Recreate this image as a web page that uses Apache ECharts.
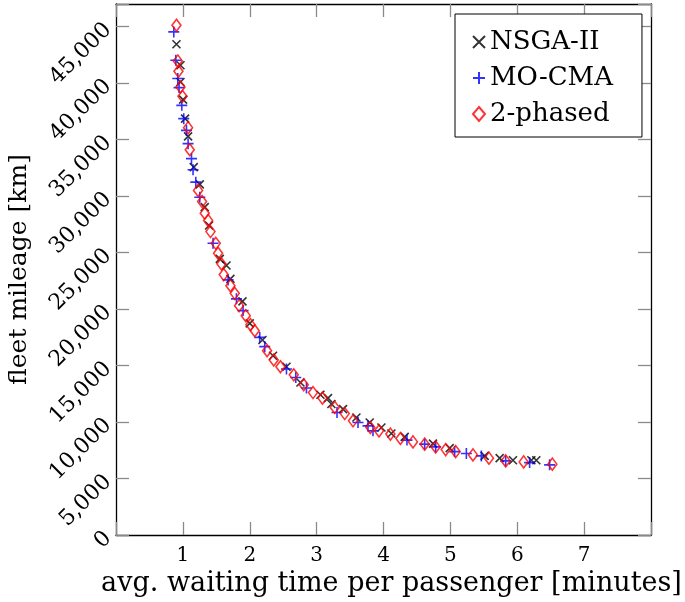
<!DOCTYPE html>
<html>
<head>
<meta charset="utf-8">
<script src="https://cdn.jsdelivr.net/npm/echarts@6/dist/echarts.min.js"></script>
<style>html,body{margin:0;padding:0;background:#fff}#c{width:685px;height:602px}</style>
</head>
<body>
<div id="c"></div>
<script>
// ---- data ----
const seriesNames = ['NSGA-II', 'MO-CMA', '2-phased'];
const xTicks = [1, 2, 3, 4, 5, 6, 7];
const yTicks = [0, 5000, 10000, 15000, 20000, 25000, 30000, 35000, 40000, 45000];

const nsgaX = [0.904, 0.964, 0.964, 1.003, 1.033, 1.078, 1.163, 1.253, 1.327, 1.392, 1.552, 1.652, 1.711, 1.891, 2.0, 2.19, 2.348, 2.549, 2.758, 3.057, 3.170, 3.221, 3.395, 3.595, 3.794, 3.969, 4.118, 4.317, 4.740, 4.990, 5.513, 5.737, 5.936, 6.211, 6.285];
const nsgaY = [43440, 41580, 40100, 38540, 36850, 35280, 32560, 31030, 29020, 27390, 24440, 23850, 22670, 20680, 18730, 17260, 15870, 14890, 13500, 12410, 12120, 11590, 11140, 10400, 9960, 9510, 8980, 8690, 8090, 7690, 7000, 6800, 6620, 6620, 6620];

const mocmaX = [0.864, 0.894, 0.924, 0.943, 0.984, 1.013, 1.054, 1.078, 1.129, 1.152, 1.193, 1.253, 1.451, 1.676, 1.801, 1.900, 2.149, 2.224, 2.549, 2.688, 2.848, 3.305, 3.619, 3.768, 3.843, 4.351, 4.616, 4.780, 5.064, 5.239, 5.463, 5.827, 6.185, 6.484];
const mocmaY = [44530, 42020, 40400, 39600, 38030, 36850, 35810, 34640, 33310, 32330, 31230, 29900, 25820, 22580, 20900, 19860, 17490, 16670, 14690, 13940, 13010, 10840, 9960, 9660, 9220, 8400, 8040, 7800, 7380, 7210, 7000, 6560, 6410, 6210];

const phasedX = [0.904, 0.924, 0.934, 0.964, 0.994, 1.078, 1.103, 1.227, 1.287, 1.327, 1.377, 1.413, 1.492, 1.526, 1.577, 1.611, 1.711, 1.776, 1.840, 1.940, 2.010, 2.075, 2.259, 2.359, 2.459, 2.658, 2.807, 2.946, 3.087, 3.271, 3.420, 3.544, 3.804, 3.933, 4.103, 4.253, 4.441, 4.616, 4.780, 4.930, 5.079, 5.338, 5.577, 5.827, 6.096, 6.525];
const phasedY = [45120, 41960, 41050, 39650, 38830, 36050, 34100, 30500, 29520, 28480, 27840, 26860, 25820, 24940, 24000, 23050, 22070, 21390, 20300, 19410, 18620, 18080, 16310, 15490, 14890, 14180, 13300, 12610, 12120, 11290, 10750, 10110, 9510, 9220, 8930, 8540, 8240, 8040, 7800, 7560, 7380, 7090, 6800, 6560, 6470, 6270];

// ---- chart ----
const FONT = 'DejaVu Serif';
const zip = (xs, ys) => xs.map((x, i) => [x, ys[i]]);
const commas = v => String(v).replace(/\B(?=(\d{3})+(?!\d))/g, ',');
const crossPath = 'path://M0,0L10,10M10,0L0,10';
const plusPath = 'path://M5,0L5,10M0,5L10,5';

const frame = () => ({ show: true, onZero: false, lineStyle: { color: '#000', width: 1.3 } });
const tick = () => ({ show: true, inside: true, length: 13, interval: 0, lineStyle: { color: '#8a8a8a', width: 1.3 } });

const chart = echarts.init(document.getElementById('c'), null, { renderer: 'canvas' });
chart.setOption({
  animation: false,
  backgroundColor: '#fff',
  grid: { left: 116, right: 34, top: 4, bottom: 67, containLabel: false, outerBoundsMode: 'none' },
  xAxis: [{
    type: 'value', min: 0, max: 8, interval: 1, position: 'bottom',
    axisLine: frame(), axisTick: tick(), splitLine: { show: false },
    axisLabel: {
      color: '#000', fontFamily: FONT, fontSize: 20, margin: 11,
      formatter: v => (xTicks.indexOf(v) >= 0 ? String(v) : '')
    },
    name: 'avg. waiting time per passenger [minutes]', nameLocation: 'middle', nameGap: 33,
    nameTextStyle: { color: '#000', fontFamily: FONT, fontSize: 27, padding: [0, 0, 0, 16] }
  }, {
    type: 'value', min: 0, max: 8, interval: 1, position: 'top',
    axisLine: frame(), axisTick: tick(), splitLine: { show: false },
    axisLabel: { show: false }
  }],
  yAxis: [{
    type: 'value', min: 0, max: 47000, interval: 5000, position: 'left',
    axisLine: frame(), axisTick: tick(), splitLine: { show: false },
    axisLabel: {
      color: '#000', fontFamily: FONT, fontSize: 22, rotate: 45, margin: 8,
      formatter: v => (yTicks.indexOf(v) >= 0 ? commas(v) : '')
    },
    name: 'fleet mileage [km]', nameLocation: 'middle', nameGap: 84, nameRotate: 90,
    nameTextStyle: { color: '#000', fontFamily: FONT, fontSize: 25 }
  }, {
    type: 'value', min: 0, max: 47000, interval: 5000, position: 'right',
    axisLine: frame(), axisTick: tick(), splitLine: { show: false },
    axisLabel: { show: false }
  }],
  legend: {
    orient: 'vertical', left: 455, top: 14,
    padding: [15, 29, 10, 17], itemGap: 10, itemWidth: 12, itemHeight: 14,
    borderColor: '#000', borderWidth: 1, backgroundColor: '#fff',
    textStyle: { color: '#000', fontFamily: FONT, fontSize: 26 },
    data: seriesNames
  },
  series: [{
    name: seriesNames[0], type: 'scatter', xAxisIndex: 0, yAxisIndex: 0,
    symbol: crossPath, symbolSize: 8,
    itemStyle: { color: 'rgba(0,0,0,0)', borderColor: '#000', borderWidth: 1.6 },
    data: zip(nsgaX, nsgaY)
  }, {
    name: seriesNames[1], type: 'scatter', xAxisIndex: 0, yAxisIndex: 0,
    symbol: plusPath, symbolSize: 11,
    itemStyle: { color: 'rgba(0,0,0,0)', borderColor: '#0000ff', borderWidth: 1.6 },
    data: zip(mocmaX, mocmaY)
  }, {
    name: seriesNames[2], type: 'scatter', xAxisIndex: 0, yAxisIndex: 0,
    symbol: 'diamond', symbolSize: [9, 12],
    itemStyle: { color: 'rgba(255,255,255,0)', borderColor: '#ff0000', borderWidth: 1.6 },
    data: zip(phasedX, phasedY)
  }]
});
</script>
</body>
</html>
